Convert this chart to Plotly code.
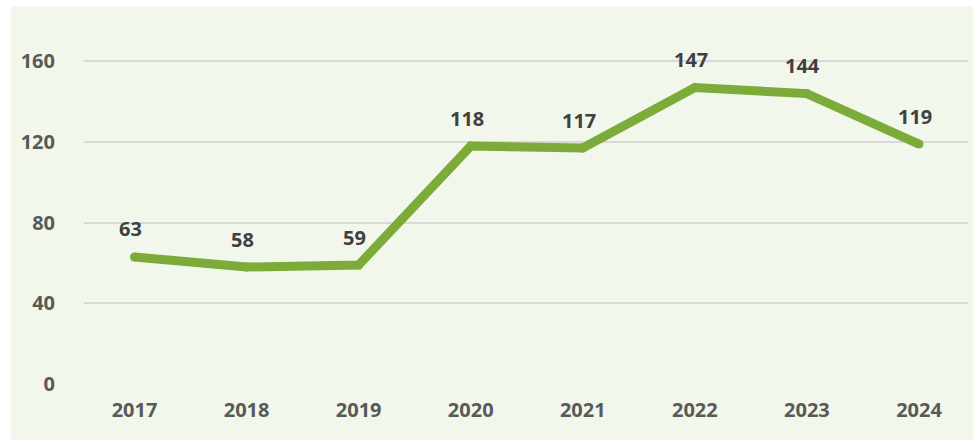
import plotly.graph_objects as go

years = ["2017", "2018", "2019", "2020", "2021", "2022", "2023", "2024"]
values = [63, 58, 59, 118, 117, 147, 144, 119]
y_ticks = [0, 40, 80, 120, 160]

W, H = 977, 440
L, R = 84, 968
T_px, B_px = 20.6, 384
ppu = (384 - 61) / 160.0
ymax = (B_px - T_px) / ppu

green = "#7cab3a"
label_col = "#404040"
tick_col = "#595959"
font = "Open Sans"

fig = go.Figure()
fig.add_trace(go.Scatter(
    x=list(range(len(years))), y=values, mode="lines+markers",
    line=dict(color=green, width=9),
    marker=dict(color=green, size=9, line=dict(width=0)),
    cliponaxis=False, hoverinfo="skip", showlegend=False,
))

for i, v in enumerate(values):
    fig.add_annotation(x=i, y=v, text=f"<b>{v}</b>", showarrow=False,
                       xshift=-4, yshift=28,
                       font=dict(family=font, size=20, color=label_col))

pw = R - L
ph = B_px - T_px
fig.add_shape(type="rect", xref="paper", yref="paper", layer="below",
              x0=(11 - L) / pw, x1=(973 - L) / pw,
              y0=(B_px - 441) / ph, y1=(B_px - 6) / ph,
              fillcolor="#f2f7ec", line=dict(width=0))

upp = 112.07
fig.update_layout(
    width=W, height=H,
    margin=dict(l=L, r=W - R, t=T_px, b=H - B_px, pad=0),
    paper_bgcolor="white", plot_bgcolor="rgba(0,0,0,0)",
    font=dict(family=font),
    xaxis=dict(
        range=[-(134.5 - L) / upp, 7 + (R - 919) / upp],
        tickmode="array", tickvals=list(range(len(years))),
        ticktext=[f"<b>{y}</b>" for y in years],
        tickfont=dict(family=font, size=20, color=tick_col),
        showgrid=False, zeroline=False, showline=False, ticks="",
        ticklabelstandoff=12,
    ),
    yaxis=dict(
        range=[0, ymax], tickmode="array", tickvals=y_ticks,
        ticktext=[f"<b>{t}</b>" for t in y_ticks],
        tickfont=dict(family=font, size=20, color=tick_col),
        showgrid=True, gridcolor="#d9d9d9", gridwidth=1.5,
        zeroline=False, showline=False, ticks="",
        ticklabelstandoff=28,
    ),
)

fig.write_html("out.html")
